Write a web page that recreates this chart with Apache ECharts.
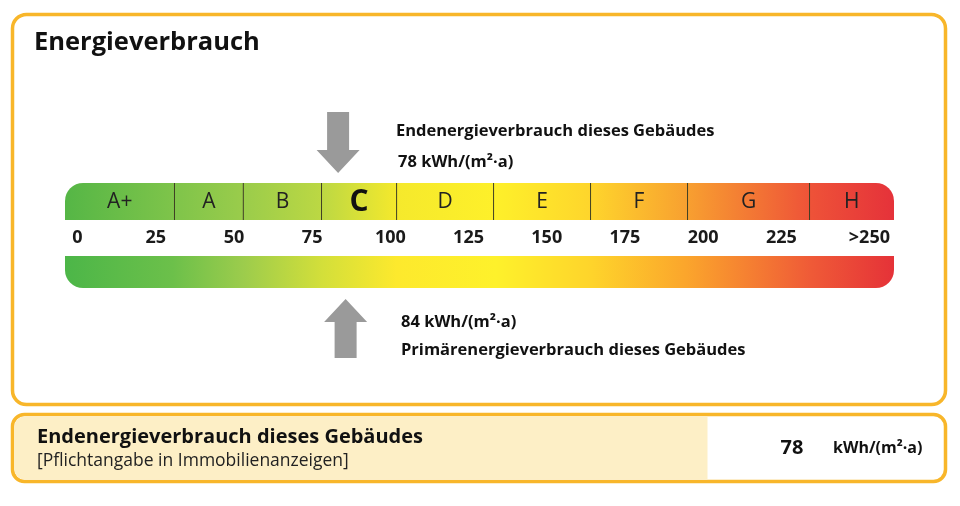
<!DOCTYPE html>
<html>
<head>
<meta charset="utf-8">
<script src="https://cdn.jsdelivr.net/npm/echarts@6/dist/echarts.min.js"></script>
<style>
html,body{margin:0;padding:0;background:#ffffff;}
#chart{width:960px;height:506px;}
</style>
</head>
<body>
<div id="chart"></div>
<script>
// ---- data ----
const classNames = ['A+', 'A', 'B', 'C', 'D', 'E', 'F', 'G', 'H'];
const classBounds = [-4, 31, 53, 78, 102, 133, 164, 195, 234, 261];
const currentClass = 'C';
const tickValues = [0, 25, 50, 75, 100, 125, 150, 175, 200, 225, 250];
const tickLabels = ['0', '25', '50', '75', '100', '125', '150', '175', '200', '225', '>250'];
const endEnergyValue = 78;      // Endenergieverbrauch kWh/(m²·a)
const primaryEnergyValue = 84;  // Primärenergieverbrauch kWh/(m²·a)
const arrowPositions = [83.3, 85.7]; // arrow positions on the scale (as drawn)
const unitText = 'kWh/(m²·a)';

const FONT = '"Open Sans", "DejaVu Sans", sans-serif';
const ORANGE = '#f8b62a';

const topStops = [
  {offset: 0.00, color: '#55b646'},
  {offset: 0.13, color: '#7ec44a'},
  {offset: 0.215, color: '#9acc4b'},
  {offset: 0.31, color: '#bcd843'},
  {offset: 0.40, color: '#f5e92c'},
  {offset: 0.52, color: '#fef02a'},
  {offset: 0.635, color: '#fed52c'},
  {offset: 0.75, color: '#f8a030'},
  {offset: 0.90, color: '#ee5238'},
  {offset: 1.00, color: '#e5323a'}
];
const bottomStops = [
  {offset: 0.00, color: '#4cb648'},
  {offset: 0.13, color: '#6cc04a'},
  {offset: 0.215, color: '#9ccc4c'},
  {offset: 0.31, color: '#d3df3a'},
  {offset: 0.40, color: '#fde92d'},
  {offset: 0.52, color: '#fef12b'},
  {offset: 0.635, color: '#fed42b'},
  {offset: 0.75, color: '#fba52c'},
  {offset: 0.90, color: '#ef5a37'},
  {offset: 1.00, color: '#e53238'}
];

const chart = echarts.init(document.getElementById('chart'), null, {renderer: 'canvas'});

const TOP_Y = 183, TOP_H = 37;
const BOT_Y = 256, BOT_H = 32;
const LABEL_Y = 238;

function grad(api, stops) {
  const x0 = api.coord([classBounds[0], 0])[0];
  const x1 = api.coord([classBounds[classBounds.length - 1], 0])[0];
  return new echarts.graphic.LinearGradient(x0, 0, x1, 0, stops, true);
}

const option = {
  backgroundColor: '#ffffff',
  animation: false,
  grid: {left: 65, right: 66, top: 0, bottom: 0},
  xAxis: {type: 'value', min: classBounds[0], max: classBounds[classBounds.length - 1], show: false},
  yAxis: {type: 'value', min: 0, max: 506, inverse: true, show: false},
  graphic: [
    {type: 'rect', z: -10, shape: {x: 12.5, y: 14.5, width: 933, height: 390, r: 14},
     style: {fill: '#ffffff', stroke: ORANGE, lineWidth: 3.5}},
    {type: 'text', x: 34, y: 43,
     style: {text: 'Energieverbrauch', font: 'bold 25.5px ' + FONT, fill: '#111111', verticalAlign: 'middle'}},
    {type: 'text', x: 396, y: 131,
     style: {text: 'Endenergieverbrauch dieses Gebäudes', font: 'bold 16.5px ' + FONT, fill: '#111111', verticalAlign: 'middle'}},
    {type: 'text', x: 398, y: 162,
     style: {text: endEnergyValue + ' ' + unitText, font: 'bold 16.5px ' + FONT, fill: '#111111', verticalAlign: 'middle'}},
    {type: 'text', x: 401, y: 322,
     style: {text: primaryEnergyValue + ' ' + unitText, font: 'bold 16.5px ' + FONT, fill: '#111111', verticalAlign: 'middle'}},
    {type: 'text', x: 401, y: 350,
     style: {text: 'Primärenergieverbrauch dieses Gebäudes', font: 'bold 16.5px ' + FONT, fill: '#111111', verticalAlign: 'middle'}},
    // bottom box
    {type: 'rect', z: -10, shape: {x: 12.5, y: 414.5, width: 933, height: 67, r: 12},
     style: {fill: '#ffffff', stroke: ORANGE, lineWidth: 3.5}},
    {type: 'rect', z: -9, shape: {x: 14.5, y: 416.5, width: 693, height: 63, r: [10, 0, 0, 10]},
     style: {fill: '#fdefc6'}},
    {type: 'text', x: 37, y: 437,
     style: {text: 'Endenergieverbrauch dieses Gebäudes', font: 'bold 20px ' + FONT, fill: '#111111', verticalAlign: 'middle'}},
    {type: 'text', x: 37, y: 461,
     style: {text: '[Pflichtangabe in Immobilienanzeigen]', font: '17.5px ' + FONT, fill: '#222222', verticalAlign: 'middle'}},
    {type: 'text', x: 792, y: 448,
     style: {text: String(endEnergyValue), font: 'bold 20px ' + FONT, fill: '#111111', align: 'center', verticalAlign: 'middle'}},
    {type: 'text', x: 833, y: 448,
     style: {text: unitText, font: 'bold 16px ' + FONT, fill: '#111111', verticalAlign: 'middle'}}
  ],
  series: [
    {
      // class band with dividers
      type: 'custom',
      data: classNames.map((n, i) => [classBounds[i], classBounds[i + 1], i]),
      renderItem: function (params, api) {
        const s = api.value(0), e = api.value(1), i = api.value(2);
        const x0 = api.coord([s, 0])[0], x1 = api.coord([e, 0])[0];
        const last = classNames.length - 1;
        const r = [i === 0 ? 18 : 0, i === last ? 18 : 0, 0, 0];
        const isCur = classNames[i] === currentClass;
        const children = [
          {type: 'rect', shape: {x: x0, y: TOP_Y, width: x1 - x0 + (i === last ? 0 : 0.5), height: TOP_H, r: r},
           style: {fill: grad(api, topStops)}},
          {type: 'text', style: {
            text: classNames[i], x: (x0 + x1) / 2, y: TOP_Y + TOP_H / 2 + 1,
            align: 'center', verticalAlign: 'middle',
            font: isCur ? 'bold 30px ' + FONT : '21px ' + FONT,
            fill: isCur ? '#111111' : '#222222'}}
        ];
        if (i > 0) {
          children.push({type: 'line', shape: {x1: x0, y1: TOP_Y, x2: x0, y2: TOP_Y + TOP_H},
            style: {stroke: '#3f3f24', lineWidth: 1}, z2: 10});
        }
        return {type: 'group', children: children};
      }
    },
    {
      // continuous scale band
      type: 'custom',
      data: [[classBounds[0], classBounds[classBounds.length - 1]]],
      renderItem: function (params, api) {
        const x0 = api.coord([api.value(0), 0])[0], x1 = api.coord([api.value(1), 0])[0];
        return {type: 'rect', shape: {x: x0, y: BOT_Y, width: x1 - x0, height: BOT_H, r: [0, 0, 18, 18]},
          style: {fill: grad(api, bottomStops)}};
      }
    },
    {
      // tick labels
      type: 'custom',
      data: tickValues.map((v, i) => [v, i]),
      renderItem: function (params, api) {
        const i = api.value(1);
        const isLast = i === tickValues.length - 1;
        const x = isLast ? api.coord([classBounds[classBounds.length - 1], 0])[0] - 4 : api.coord([api.value(0), 0])[0];
        return {type: 'text', style: {
          text: tickLabels[i], x: x, y: LABEL_Y, align: isLast ? 'right' : 'center', verticalAlign: 'middle',
          font: 'bold 18px ' + FONT, fill: '#1a1a1a'}};
      }
    },
    {
      // arrows: down arrow above the bands (Endenergie), up arrow below (Primärenergie)
      type: 'custom',
      data: arrowPositions.map((p, i) => [p, i]),
      renderItem: function (params, api) {
        const cx = api.coord([api.value(0), 0])[0];
        const down = api.value(1) === 0;
        const sw = 11, hw = 21.5;
        let pts;
        if (down) {
          const t = 112, hb = 150, tip = 173;
          pts = [[cx - sw, t], [cx + sw, t], [cx + sw, hb], [cx + hw, hb], [cx, tip], [cx - hw, hb], [cx - sw, hb]];
        } else {
          const tip = 299, hb = 322, b = 358;
          pts = [[cx, tip], [cx + hw, hb], [cx + sw, hb], [cx + sw, b], [cx - sw, b], [cx - sw, hb], [cx - hw, hb]];
        }
        return {type: 'polygon', shape: {points: pts}, style: {fill: '#9a9a9a'}};
      }
    }
  ]
};
chart.setOption(option);
</script>
</body>
</html>
